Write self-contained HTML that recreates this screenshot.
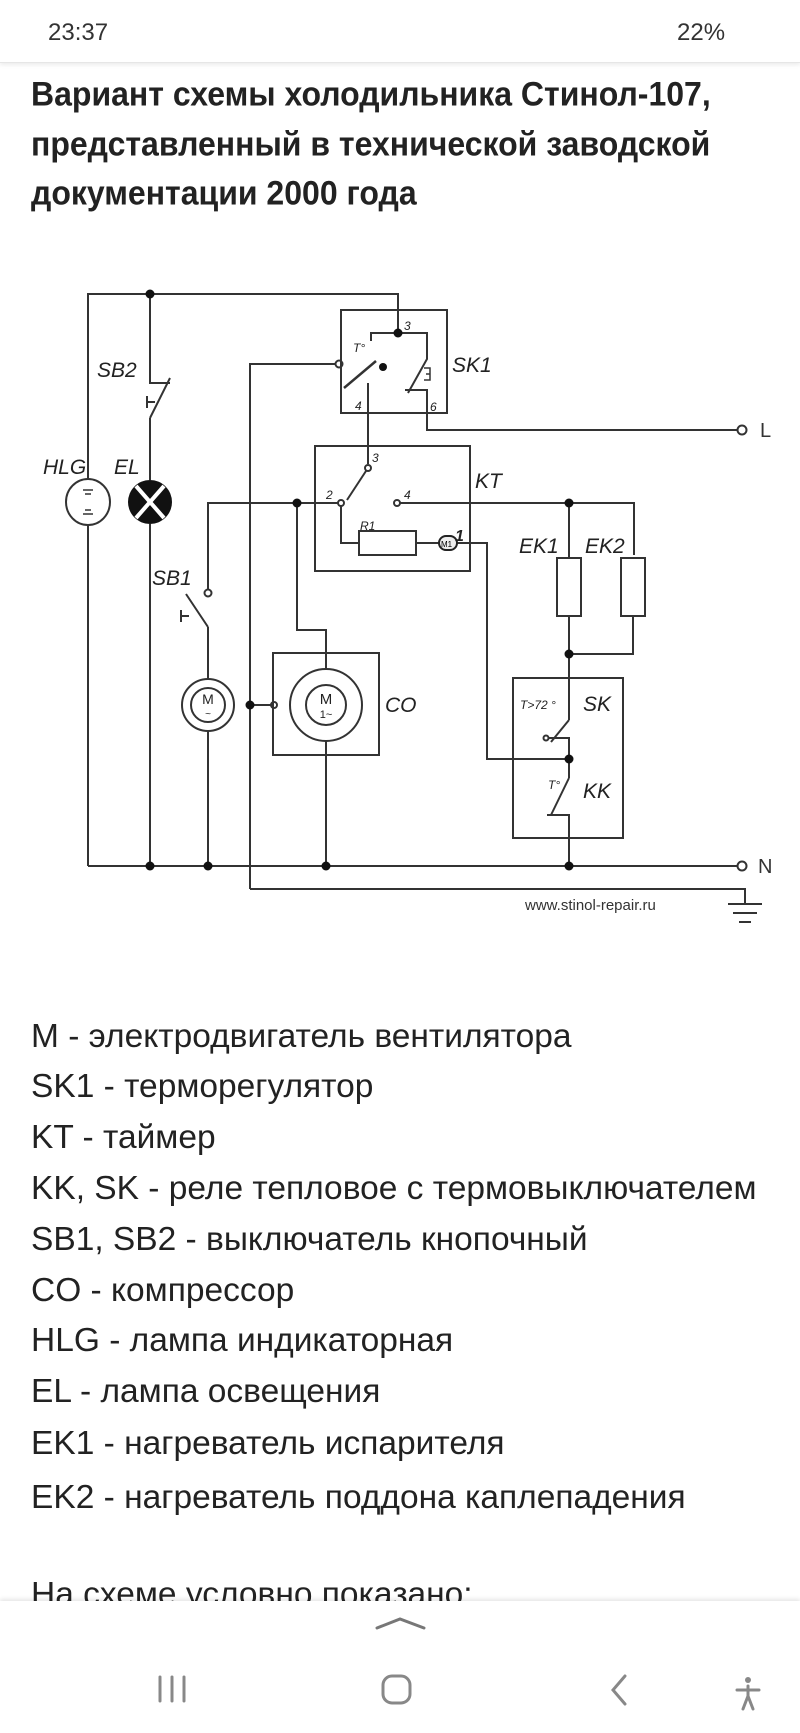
<!DOCTYPE html>
<html><head><meta charset="utf-8"><style>
body{margin:0;width:800px;height:1733px;position:relative;background:#fff;overflow:hidden;font-family:"Liberation Sans",sans-serif;color:#222}
.t{position:absolute;left:31px;font-weight:bold;font-size:32px;color:#222;white-space:nowrap;transform:scaleY(1.08);transform-origin:left top}
.l{position:absolute;left:31px;font-size:33.5px;color:#222;white-space:nowrap;line-height:36px}
svg{position:absolute;left:0;top:0}
</style></head><body>
<div style="position:absolute;left:0;top:0;width:800px;height:62px;background:#fff;border-bottom:1px solid #e6e6e6;box-shadow:0 2px 4px rgba(0,0,0,.08)"></div>
<div style="position:absolute;left:48px;top:19px;font-size:24px;color:#333">23:37</div>
<div style="position:absolute;left:677px;top:19px;font-size:24px;color:#333">22%</div>
<div class="t" style="top:74px">Вариант схемы холодильника Стинол-107,</div>
<div class="t" style="top:124px">представленный в технической заводской</div>
<div class="t" style="top:173px">документации 2000 года</div>

<div class="l" style="top:1019px">M - электродвигатель вентилятора</div>
<div class="l" style="top:1069px">SK1 - терморегулятор</div>
<div class="l" style="top:1120px">KT - таймер</div>
<div class="l" style="top:1171px">KK, SK - реле тепловое с термовыключателем</div>
<div class="l" style="top:1222px">SB1, SB2 - выключатель кнопочный</div>
<div class="l" style="top:1273px">CO - компрессор</div>
<div class="l" style="top:1323px">HLG - лампа индикаторная</div>
<div class="l" style="top:1374px">EL - лампа освещения</div>
<div class="l" style="top:1426px">EK1 - нагреватель испарителя</div>
<div class="l" style="top:1480px">EK2 - нагреватель поддона каплепадения</div>
<div class="l" style="top:1577px">На схеме условно показано:</div>
<div style="position:absolute;left:0;top:1601px;width:800px;height:132px;background:#fff;box-shadow:0 -2px 4px rgba(0,0,0,.1)"></div>

<svg width="800" height="1733" viewBox="0 0 800 1733">
<g fill="none" stroke="#333" stroke-width="2">
<polyline points="88,480 88,294 398,294 398,333"/>
<line x1="88" y1="524" x2="88" y2="866"/>
<line x1="88" y1="866" x2="738" y2="866"/>
<circle cx="742" cy="866" r="4.5"/>
<polyline points="150,294 150,383 170,383"/>
<line x1="170" y1="378" x2="150" y2="418"/>
<line x1="150" y1="418" x2="150" y2="480"/>
<line x1="150" y1="524" x2="150" y2="866"/>
<path d="M147 396 v12 M147 402 h8"/>
<ellipse cx="88" cy="502" rx="22" ry="23"/>
<path d="M83 490 h10 M85 494 h6 M83 514 h10 M85 510 h6" stroke-width="1.5"/>
<rect x="341" y="310" width="106" height="103"/>
<polyline points="398,333 371,333 371,341"/>
<line x1="344" y1="388" x2="376" y2="361" stroke-width="2.5"/>
<polyline points="250,889 250,364 335,364"/>
<circle cx="339" cy="364" r="3.5"/>
<polyline points="398,333 427,333 427,359 408,393"/>
<polyline points="405,390 427,390 427,430 738,430"/>
<path d="M424 368 h6 v12 h-6 M426 374 h4" stroke-width="1.5"/>
<circle cx="742" cy="430" r="4.5"/>
<polyline points="368,383 368,464"/>
<rect x="315" y="446" width="155" height="125"/>
<circle cx="368" cy="468" r="3"/>
<line x1="366" y1="471" x2="347" y2="500"/>
<circle cx="341" cy="503" r="3"/>
<circle cx="397" cy="503" r="3"/>
<polyline points="208,590 208,503 338,503"/>
<polyline points="400,503 634,503 634,555"/>
<polyline points="341,506 341,543 359,543"/>
<rect x="359" y="531" width="57" height="24"/>
<line x1="416" y1="543" x2="439" y2="543"/>
<polyline points="457,543 487,543 487,759 569,759"/>
<line x1="569" y1="503" x2="569" y2="558"/>
<rect x="557" y="558" width="24" height="58"/>
<rect x="621" y="558" width="24" height="58"/>
<polyline points="569,616 569,720"/>
<polyline points="633,616 633,654 569,654"/>
<rect x="513" y="678" width="110" height="160"/>
<line x1="569" y1="720" x2="551" y2="742"/>
<circle cx="546" cy="738" r="2.5"/>
<polyline points="549,738 569,738 569,778"/>
<line x1="569" y1="778" x2="551" y2="815"/>
<polyline points="547,815 569,815 569,866"/>
<circle cx="208" cy="593" r="3.5"/>
<line x1="208" y1="627" x2="186" y2="594"/>
<line x1="208" y1="627" x2="208" y2="679"/>
<path d="M181 610 v12 M181 616 h8"/>
<circle cx="208" cy="705" r="26"/>
<circle cx="208" cy="705" r="17"/>
<line x1="208" y1="731" x2="208" y2="866"/>
<rect x="273" y="653" width="106" height="102"/>
<polyline points="297,503 297,630 326,630 326,669"/>
<circle cx="326" cy="705" r="36"/>
<circle cx="326" cy="705" r="20"/>
<line x1="326" y1="741" x2="326" y2="866"/>
<line x1="250" y1="705" x2="271" y2="705"/>
<circle cx="274" cy="705" r="3"/>
<polyline points="250,889 745,889 745,904"/>
<path d="M728 904 h34 M733 913 h24 M739 922 h12"/>
</g>
<circle cx="150" cy="502" r="22" fill="#111"/>
<path d="M136 486 L164 518 M164 486 L136 518" stroke="#fff" stroke-width="4"/>
<rect x="439" y="536" width="18" height="14" rx="7" fill="#eee" stroke="#222" stroke-width="2"/>
<text x="441" y="547" font-size="8" font-family="Liberation Sans">M1</text>
<g fill="#111">
<circle cx="150" cy="294" r="4.5"/><circle cx="398" cy="333" r="4.5"/><circle cx="383" cy="367" r="4"/>
<circle cx="297" cy="503" r="4.5"/><circle cx="569" cy="503" r="4.5"/><circle cx="569" cy="654" r="4.5"/>
<circle cx="569" cy="759" r="4.5"/><circle cx="250" cy="705" r="4.5"/>
<circle cx="150" cy="866" r="4.5"/><circle cx="208" cy="866" r="4.5"/><circle cx="326" cy="866" r="4.5"/><circle cx="569" cy="866" r="4.5"/>
</g>
<g font-family="Liberation Sans" fill="#222" text-anchor="middle">
<text x="208" y="704" font-size="14">M</text><text x="208" y="717" font-size="10">~</text>
<text x="326" y="704" font-size="15">M</text><text x="326" y="718" font-size="11">1~</text>
</g>
<g font-family="Liberation Sans" font-style="italic" fill="#222">
<g font-size="21">
<text x="97" y="377">SB2</text><text x="43" y="474">HLG</text><text x="114" y="474">EL</text>
<text x="452" y="372">SK1</text><text x="475" y="488">KT</text>
<text x="519" y="553">EK1</text><text x="585" y="553">EK2</text>
<text x="152" y="585">SB1</text><text x="385" y="712">CO</text>
<text x="583" y="711">SK</text><text x="583" y="798">KK</text>
</g>
<g font-size="12">
<text x="404" y="330">3</text><text x="355" y="410">4</text><text x="430" y="411">6</text>
<text x="372" y="462">3</text><text x="326" y="499">2</text><text x="404" y="499">4</text>
<text x="360" y="530">R1</text><text x="353" y="352">T°</text>
<text x="520" y="709">T&gt;72 °</text><text x="548" y="789">T°</text>
</g>
<text x="455" y="541" font-size="16" font-weight="bold">1</text>
</g>
<text x="525" y="910" font-size="15" font-family="Liberation Sans" fill="#333">www.stinol-repair.ru</text>
<text x="760" y="437" font-size="20" font-family="Liberation Sans" fill="#333">L</text>
<text x="758" y="873" font-size="20" font-family="Liberation Sans" fill="#333">N</text>
<g stroke="#777" stroke-width="3" fill="none" stroke-linecap="round">
<polyline points="377,1628 400,1619 424,1628"/>
<path d="M160 1677v24 M172 1677v24 M184 1677v24" stroke="#888"/>
<rect x="383" y="1676" width="27" height="27" rx="9" stroke="#888"/>
<polyline points="625,1676 613,1690 625,1704" stroke="#888"/>
<path d="M737 1690h22 M748 1686v10 l-5 13 M748 1696 l5 13" stroke="#888"/>
</g>
<circle cx="748" cy="1680" r="3" fill="#888"/>
</svg>
</body></html>
